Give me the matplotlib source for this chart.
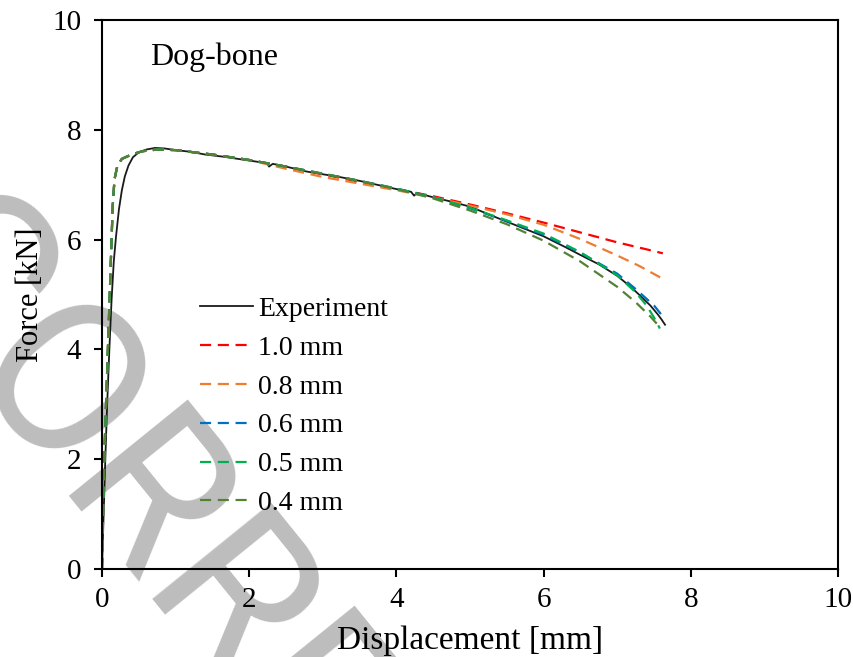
import matplotlib
matplotlib.use("Agg")
import matplotlib.pyplot as plt

plt.rcParams['font.family'] = ['Liberation Serif', 'DejaVu Serif']

# experiment (black)
exp_x = [0, 0.02, 0.045, 0.07, 0.10, 0.13, 0.16, 0.19, 0.23, 0.27, 0.31, 0.36, 0.42,
         0.50, 0.60, 0.72, 0.85, 1.0, 1.2, 1.4, 1.65, 1.9, 2.1, 2.24, 2.27, 2.32, 2.5,
         2.78, 3.0, 3.19, 3.5, 3.8, 4.0, 4.2, 4.24, 4.28, 4.5, 4.75, 5.0, 5.2, 5.4, 5.7,
         6.0, 6.3, 6.5, 6.75, 7.0, 7.2, 7.35, 7.45, 7.55, 7.6, 7.65]
exp_f = [0, 0.9, 2.0, 3.0, 4.0, 4.9, 5.6, 6.05, 6.55, 6.9, 7.15, 7.35, 7.5,
         7.59, 7.64, 7.67, 7.66, 7.63, 7.60, 7.55, 7.51, 7.46, 7.42, 7.39, 7.33, 7.38, 7.33,
         7.24, 7.19, 7.15, 7.07, 6.98, 6.92, 6.87, 6.80, 6.85, 6.77, 6.69, 6.60, 6.49, 6.38, 6.22,
         6.06, 5.86, 5.72, 5.55, 5.34, 5.12, 4.93, 4.80, 4.64, 4.55, 4.45]

# simulations: shared loading part
sim_x_common = [0, 0.03, 0.055, 0.08, 0.105, 0.125, 0.145, 0.17, 0.21, 0.27, 0.4, 0.55,
                0.75, 1.0, 1.5, 2.0]
sim_f_common = [0, 2.0, 3.0, 4.0, 5.0, 5.8, 6.6, 7.1, 7.35, 7.47, 7.55, 7.61,
                7.64, 7.63, 7.55, 7.45]

# softening tails for each mesh size
x_10 = [2.5, 3.0, 3.5, 4.0, 4.5, 5.0, 5.5, 6.0, 6.5, 7.0, 7.5, 7.62]
f_10 = [7.33, 7.19, 7.05, 6.92, 6.79, 6.64, 6.48, 6.31, 6.13, 5.95, 5.79, 5.75]
x_08 = [2.5, 3.0, 3.5, 4.0, 4.5, 5.0, 5.5, 6.0, 6.5, 7.0, 7.3, 7.6]
f_08 = [7.29, 7.14, 7.02, 6.90, 6.77, 6.62, 6.46, 6.27, 6.01, 5.71, 5.52, 5.30]
x_06 = [2.5, 3.0, 3.5, 4.0, 4.5, 5.0, 5.5, 6.0, 6.5, 7.0, 7.25, 7.5, 7.62]
f_06 = [7.33, 7.20, 7.07, 6.93, 6.77, 6.57, 6.34, 6.09, 5.76, 5.38, 5.10, 4.80, 4.60]
x_05 = [2.5, 3.0, 3.5, 4.0, 4.5, 5.0, 5.5, 6.0, 6.5, 7.0, 7.25, 7.4, 7.5, 7.58]
f_05 = [7.33, 7.20, 7.07, 6.93, 6.77, 6.58, 6.35, 6.11, 5.77, 5.35, 5.04, 4.80, 4.58, 4.38]
x_04 = [2.5, 3.0, 3.5, 4.0, 4.5, 5.0, 5.5, 6.0, 6.5, 7.0, 7.25, 7.45, 7.55]
f_04 = [7.33, 7.20, 7.07, 6.92, 6.75, 6.53, 6.28, 5.98, 5.60, 5.14, 4.86, 4.60, 4.45]

sims = [("1.0 mm", x_10, f_10, "#ff0000"),
        ("0.8 mm", x_08, f_08, "#ed7d31"),
        ("0.6 mm", x_06, f_06, "#0070c0"),
        ("0.5 mm", x_05, f_05, "#00b050"),
        ("0.4 mm", x_04, f_04, "#548235")]

fig = plt.figure(figsize=(8.54, 6.57), dpi=100)
ax = fig.add_axes([102/854, 1 - 569/657, 736/854, 549/657])
ax.set_facecolor('none')

# watermark
fig.text(-124/854, 1 - 258/657, "CORRECTED PROOF", rotation=-51, rotation_mode='anchor',
         ha='left', va='baseline', fontsize=155, family=['Roboto', 'Liberation Sans'],
         color='#bdbdbd', zorder=-5)

ax.plot(exp_x, exp_f, color='#1a1a1a', lw=1.3, label='Experiment')
for lab, xs, fs, c in sims:
    ax.plot(sim_x_common + xs, sim_f_common + fs, color=c, lw=1.6, dashes=(5, 3), label=lab)

ax.set_xlim(0, 10)
ax.set_ylim(0, 10)
ax.set_xticks([0, 2, 4, 6, 8, 10])
ax.set_yticks([0, 2, 4, 6, 8, 10])
ax.tick_params(direction='out', length=6, width=1.5, labelsize=21, pad=7)
ax.tick_params(axis='y', pad=9)
for s in ax.spines.values():
    s.set_linewidth(1.5)

ax.set_xlabel('Displacement [mm]', fontsize=24, labelpad=9)
ax.set_ylabel('Force [kN]', fontsize=22, labelpad=5)
ax.text(0.065, 0.918, 'Dog-bone', transform=ax.transAxes, fontsize=23, va='baseline')

ax.legend(loc='upper left', bbox_to_anchor=(0.133, 0.496), frameon=False, fontsize=20,
          handlelength=1.9, handletextpad=0.2, labelspacing=0.48, borderpad=0,
          borderaxespad=0)

fig.savefig('out.png', dpi=100)
